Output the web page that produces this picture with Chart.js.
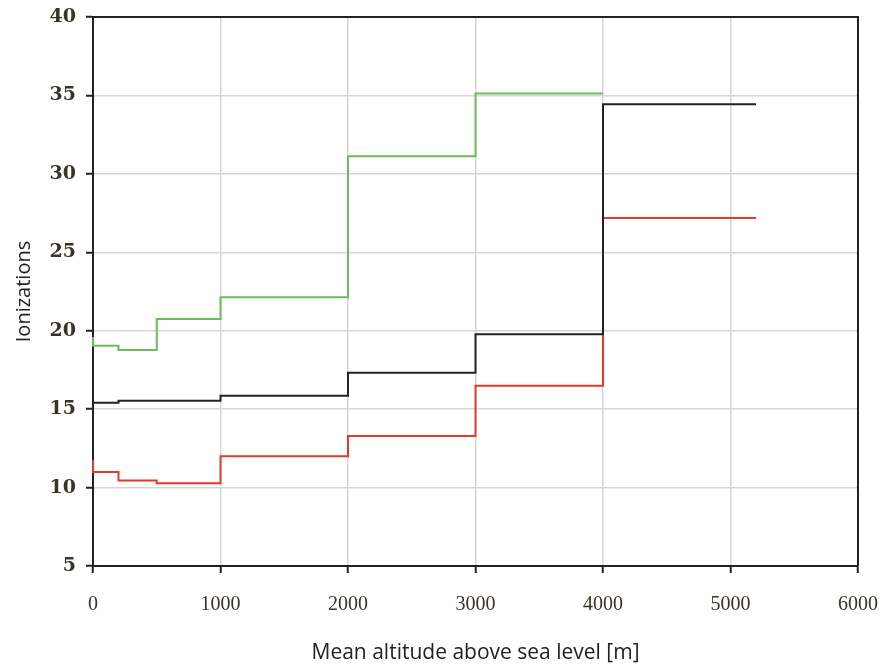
<!DOCTYPE html>
<html>
<head>
<meta charset="utf-8">
<script src="https://cdn.jsdelivr.net/npm/chart.js@4/dist/chart.umd.min.js"></script>
<style>
  html, body { margin: 0; padding: 0; background: #fff; }
  #wrap { width: 888px; height: 668px; }
</style>
</head>
<body>
<div id="wrap"><canvas id="c" width="888" height="668"></canvas></div>
<script>
// step edges (m) and the ionization level held from each edge onward
const greenAlt  = [0, 0, 200, 500, 1000, 2000, 3000, 4000]
const greenVal  = [19.6, 19.04, 18.77, 20.74, 22.14, 31.13, 35.13, 35.13]
const blackAlt  = [0, 200, 1000, 2000, 3000, 4000, 5200]
const blackVal  = [15.4, 15.53, 15.85, 17.32, 19.77, 34.43, 34.43]
const redAlt    = [0, 0, 200, 500, 1000, 2000, 3000, 4000, 5200]
const redVal    = [11.75, 11.0, 10.45, 10.28, 12.0, 13.29, 16.49, 27.18, 27.18]

const xTicks = [0, 1000, 2000, 3000, 4000, 5000, 6000]
const yTicks = [5, 10, 15, 20, 25, 30, 35, 40]

const pts = (xs, ys) => xs.map((x, i) => ({ x, y: ys[i] }))

function series(xs, ys, color) {
  return {
    data: pts(xs, ys),
    borderColor: color,
    borderWidth: 2,
    pointRadius: 0,
    stepped: 'before',
    fill: false,
    clip: false,
  }
}

// top and right edges of the plot box (left/bottom come from the axes)
const frame = {
  id: 'frame',
  beforeDatasetsDraw(chart) {
    const { ctx, chartArea: a } = chart
    ctx.save()
    ctx.strokeStyle = '#222'
    ctx.lineWidth = 2
    ctx.beginPath()
    ctx.moveTo(a.left, a.top)
    ctx.lineTo(a.right, a.top)
    ctx.lineTo(a.right, a.bottom)
    ctx.stroke()
    ctx.restore()
  },
}

const GRID = { color: '#d6d6d6', lineWidth: 1.5, tickColor: '#222', tickLength: 7, tickWidth: 2 }

new Chart(document.getElementById('c'), {
  type: 'line',
  data: {
    datasets: [
      series(greenAlt, greenVal, '#6dbb5f'),
      series(blackAlt, blackVal, '#222222'),
      series(redAlt, redVal, '#e8372c'),
    ],
  },
  options: {
    responsive: false,
    animation: false,
    layout: { padding: { top: 17, right: 30, left: 0, bottom: 0 } },
    plugins: { legend: { display: false }, tooltip: { enabled: false } },
    scales: {
      x: {
        type: 'linear',
        min: 0, max: 6000,
        afterBuildTicks: s => { s.ticks = xTicks.map(v => ({ value: v })) },
        afterFit: s => { s.height = 102; s.paddingLeft = 0; s.paddingRight = 0 },
        grid: GRID,
        border: { color: '#222', width: 2 },
        ticks: {
          color: '#3a3328', padding: 20,
          font: { family: 'Liberation Serif', size: 20 },
          callback: v => String(v),
        },
        title: {
          display: true,
          text: 'Mean altitude above sea level [m]',
          color: '#222',
          font: { family: 'Open Sans', size: 21 },
          padding: { top: 0, bottom: 2 },
        },
      },
      y: {
        min: 5, max: 40,
        afterBuildTicks: s => { s.ticks = yTicks.map(v => ({ value: v })) },
        afterFit: s => { s.width = 93; s.paddingTop = 0; s.paddingBottom = 0 },
        grid: GRID,
        border: { color: '#222', width: 2 },
        ticks: {
          color: '#3a3328', padding: 10,
          font: { family: 'DejaVu Serif', size: 19, weight: 'bold' },
        },
        title: {
          display: true,
          text: 'Ionizations',
          color: '#222',
          font: { family: 'Open Sans', size: 20 },
          padding: { top: 12, bottom: 4 },
        },
      },
    },
  },
  plugins: [frame],
})
</script>
</body>
</html>
